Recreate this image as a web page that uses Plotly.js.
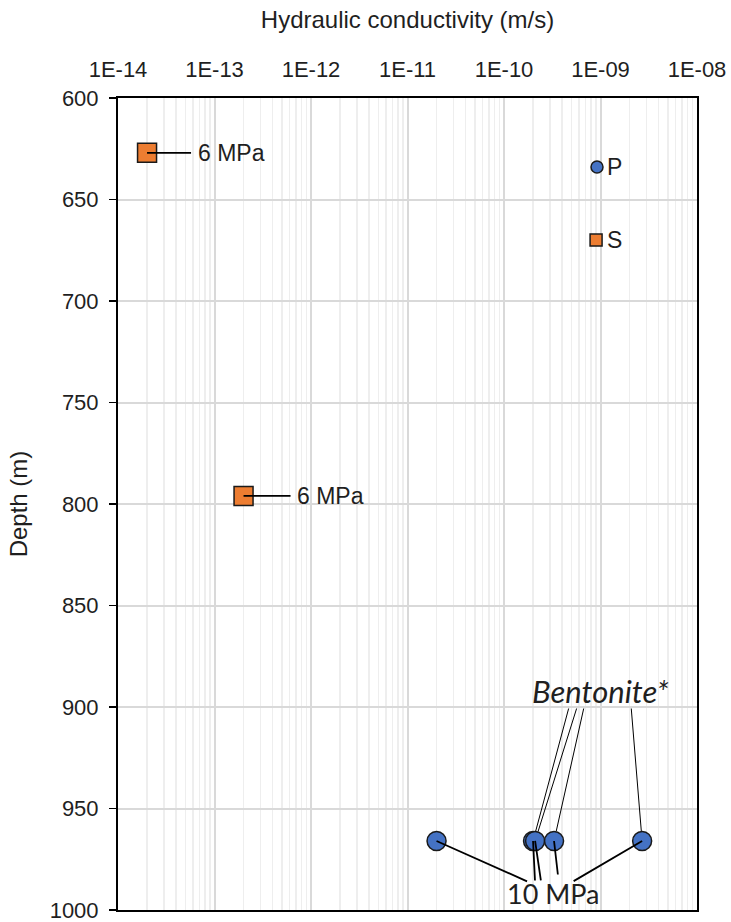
<!DOCTYPE html>
<html>
<head>
<meta charset="utf-8">
<script src="https://cdn.plot.ly/plotly-3.0.1.min.js"></script>
<style>
  html, body { margin: 0; padding: 0; background: #fff; }
  #chart { width: 731px; height: 922px; }
</style>
</head>
<body>
<div id="chart"></div>
<script>
// Hydraulic conductivity (m/s) against depth (m)
const xTickVals = [1e-14, 1e-13, 1e-12, 1e-11, 1e-10, 1e-9, 1e-8];
const xTickText = ['1E-14', '1E-13', '1E-12', '1E-11', '1E-10', '1E-09', '1E-08'];

// Samples tested at 6 MPa (orange squares)
const mpa6K = [2e-14, 2e-13];
const mpa6Depth = [627, 796];

// Single P and S points
const pK = [9.2e-10];
const pDepth = [634];
const sK = [9.0e-10];
const sDepth = [670];

// Bentonite* samples tested at 10 MPa
const bentK = [2.0e-11, 2.0e-10, 2.1e-10, 3.3e-10, 2.7e-9];
const bentDepth = [966, 966, 966, 966, 966];

const ORANGE = '#ED7D31';
const BLUE = '#4472C4';
const EDGE = '#1a1a1a';
const TEXT = '#1f1f1f';
const lg = v => Math.log10(v);

const traces = [
  {
    x: mpa6K, y: mpa6Depth, type: 'scatter', mode: 'markers',
    marker: { symbol: 'square', size: 19, color: ORANGE, line: { color: EDGE, width: 1.5 } }
  },
  {
    x: pK, y: pDepth, type: 'scatter', mode: 'markers',
    marker: { symbol: 'circle', size: 12, color: BLUE, line: { color: EDGE, width: 1.5 } }
  },
  {
    x: sK, y: sDepth, type: 'scatter', mode: 'markers',
    marker: { symbol: 'square', size: 12, color: ORANGE, line: { color: EDGE, width: 1.5 } }
  },
  {
    x: bentK, y: bentDepth, type: 'scatter', mode: 'markers',
    marker: { symbol: 'circle', size: 19, color: BLUE, line: { color: EDGE, width: 1.5 } }
  }
];

const labelFont = { family: 'Liberation Sans, Arial, sans-serif', size: 23, color: TEXT };
const calloutFont = { family: 'Lato, Carlito, sans-serif', size: 27, color: TEXT };
const bentFont = { family: 'Lato, Carlito, sans-serif', size: 31, color: TEXT };

const annotations = [];

// "6 MPa" callouts with leader lines
const mpa6Ax = [84, 87];
mpa6K.forEach((k, i) => {
  annotations.push({
    x: lg(k), y: mpa6Depth[i], xref: 'x', yref: 'y',
    text: '6 MPa', font: labelFont,
    showarrow: true, arrowhead: 0, arrowwidth: 1.8, arrowcolor: '#000',
    ax: mpa6Ax[i], ay: 0, standoff: 0, borderpad: 6
  });
});

// P and S labels
annotations.push({ x: lg(pK[0]), y: pDepth[0], xref: 'x', yref: 'y', text: 'P', font: labelFont,
  showarrow: false, xanchor: 'left', xshift: 8, yshift: 0 });
annotations.push({ x: lg(sK[0]), y: sDepth[0], xref: 'x', yref: 'y', text: 'S', font: labelFont,
  showarrow: false, xanchor: 'left', xshift: 9, yshift: 0 });

// "10 MPa" label and its leader lines
annotations.push({ x: lg(3.3e-10), y: 1000, xref: 'x', yref: 'y', text: '10 MPa', font: calloutFont,
  showarrow: false, yanchor: 'bottom', xshift: -1, yshift: -2 });
const tenOffsets = [[92, 41], [2, 41], [6, 41], [4, 35], [-70, 41]];
bentK.forEach((k, i) => {
  annotations.push({
    x: lg(k), y: bentDepth[i], xref: 'x', yref: 'y', text: '',
    showarrow: true, arrowhead: 0, arrowwidth: 1.8, arrowcolor: '#000',
    ax: tenOffsets[i][0], ay: tenOffsets[i][1], standoff: 0
  });
});

// "Bentonite*" label and its leader lines
annotations.push({ x: lg(1e-9), y: 892, xref: 'x', yref: 'y', text: '<i>Bentonite*</i>', font: bentFont,
  showarrow: false, xshift: 0 });
const bentLead = [[1, 36, -134], [2, 42, -134], [3, 30, -134], [4, -11, -134]];
bentLead.forEach(([i, ax, ay]) => {
  annotations.push({
    x: lg(bentK[i]), y: bentDepth[i], xref: 'x', yref: 'y', text: '',
    showarrow: true, arrowhead: 0, arrowwidth: 1, arrowcolor: '#000',
    ax: ax, ay: ay, standoff: 10
  });
});

const layout = {
  width: 731, height: 922,
  margin: { l: 118, r: 34, t: 98, b: 12 },
  paper_bgcolor: '#fff', plot_bgcolor: '#fff',
  showlegend: false,
  font: { family: 'Liberation Sans, Arial, sans-serif', size: 22, color: TEXT },
  xaxis: {
    type: 'log', side: 'top',
    range: [-14, -8],
    tickmode: 'array', tickvals: xTickVals, ticktext: xTickText,
    ticks: '', ticklabelstandoff: 10, ticklabeloverflow: 'allow',
    tickfont: { size: 22, color: TEXT },
    showgrid: true, gridcolor: '#d9d9d9', gridwidth: 2,
    minor: { dtick: 'D1', showgrid: true, gridcolor: '#eeeeee', gridwidth: 1.5, ticks: '' },
    showline: true, linecolor: '#000', linewidth: 2, mirror: true,
    zeroline: false,
    title: { text: 'Hydraulic conductivity (m/s)', font: { size: 24, color: TEXT }, standoff: 22 }
  },
  yaxis: {
    range: [1000, 600], autorange: false,
    tickmode: 'linear', tick0: 600, dtick: 50,
    ticks: 'outside', ticklen: 7, tickwidth: 1.5, tickcolor: '#000',
    ticklabelstandoff: 6, ticklabeloverflow: 'allow',
    tickfont: { size: 22, color: TEXT },
    showgrid: true, gridcolor: '#d9d9d9', gridwidth: 2,
    showline: true, linecolor: '#000', linewidth: 2, mirror: true,
    zeroline: false,
    title: { text: 'Depth (m)', font: { size: 24, color: TEXT }, standoff: 15 }
  },
  annotations: annotations
};

Plotly.newPlot('chart', traces, layout, { displayModeBar: false, staticPlot: true });
</script>
</body>
</html>
